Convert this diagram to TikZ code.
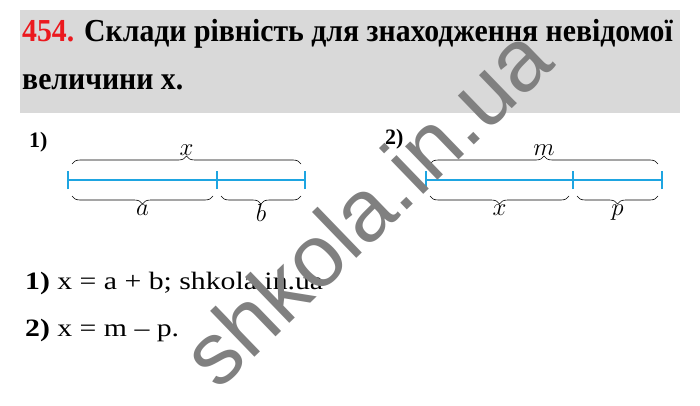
\documentclass[tikz,border=0pt]{standalone}
\usepackage{fontspec}
\setmainfont{Liberation Serif}
\setsansfont{Liberation Sans}
\newfontfamily\headfont[FakeStretch=0.93]{Liberation Serif}
\newfontfamily\ansfont[FakeStretch=1.19]{Liberation Serif}
\usepackage{xcolor}
\usetikzlibrary{decorations.pathreplacing}
\definecolor{segblue}{RGB}{30,165,225}
\definecolor{headgray}{RGB}{217,217,217}
\definecolor{markgray}{RGB}{128,128,128}
\definecolor{numred}{RGB}{235,25,30}

\begin{document}
\begin{tikzpicture}[x=1pt, y=-1pt,
seg/.style={draw=segblue, line width=1.8pt},
brc/.style={decorate, decoration={brace, amplitude=8pt}, line width=0.6pt},
lbl/.style={font=\fontsize{26}{26}\selectfont},
title/.style={anchor=base west, inner sep=0pt, font=\headfont\fontsize{32}{32}\selectfont\bfseries},
answer/.style={anchor=base west, inner sep=0pt, font=\ansfont\fontsize{25}{25}\selectfont},
num/.style={anchor=base west, inner sep=0pt, font=\fontsize{22}{22}\selectfont\bfseries}
]
\useasboundingbox[fill=white] (0,0) rectangle (700,406);
\fill[headgray] (20,10) rectangle (680,113) coordinate (hd);
\node[title] (t1) at (22,42) {\textcolor{numred}{454.} Склади рівність для знаходження невідомої};
\node[title] (t2) at (22,90) {величини х.};

% first scheme
\node[num] (n1) at (29,147) {1)};
\coordinate (a0) at (68,180);
\coordinate (a1) at (217,180);
\coordinate (a2) at (305,180);
\draw[seg] (a0) -- (a2);
\foreach \p in {a0,a1,a2}
  \draw[seg] ([yshift=-9pt]\p) -- ([yshift=9pt]\p);
\draw[brc] ([shift={(4,-16)}]a0) -- ([shift={(-4,-16)}]a2) node[midway, above=5pt, lbl] (lx) {$x$};
\draw[brc] ([shift={(-4,16)}]a1) -- ([shift={(4,16)}]a0) node[midway, below=5pt, lbl] (la) {$a$};
\draw[brc] ([shift={(-4,16)}]a2) -- ([shift={(4,16)}]a1) node[midway, below=5pt, lbl] (lb) {$b$};

% second scheme
\node[num] (n2) at (385,145) {2)};
\coordinate (b0) at (426,180);
\coordinate (b1) at (573,180);
\coordinate (b2) at (662,180);
\draw[seg] (b0) -- (b2);
\foreach \p in {b0,b1,b2}
  \draw[seg] ([yshift=-9pt]\p) -- ([yshift=9pt]\p);
\draw[brc] ([shift={(4,-16)}]b0) -- ([shift={(-4,-16)}]b2) node[midway, above=5pt, lbl] (lm) {$m$};
\draw[brc] ([shift={(-4,16)}]b1) -- ([shift={(4,16)}]b0) node[midway, below=5pt, lbl] (lx2) {$x$};
\draw[brc] ([shift={(-4,16)}]b2) -- ([shift={(4,16)}]b1) node[midway, below=5pt, lbl] (lp) {$p$};

% answers
\node[answer] (r1) at (25,289) {\textbf{1)} x = a + b; shkola.in.ua};
\node[answer] (r2) at (25,336) {\textbf{2)} x = m – p.};

% watermark
\node[rotate=44, text=markgray, font=\fontsize{88}{88}\selectfont\sffamily] (wm) at (366,206) {shkola.in.ua};
\end{tikzpicture}
\end{document}
